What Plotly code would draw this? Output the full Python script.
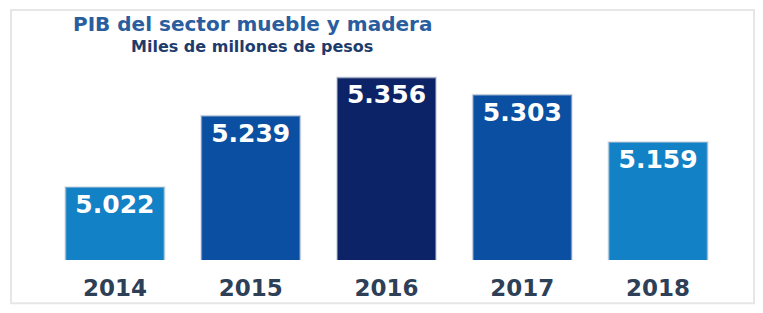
import plotly.graph_objects as go

years = ["2014", "2015", "2016", "2017", "2018"]
values = [5022, 5239, 5356, 5303, 5159]
labels = ["5.022", "5.239", "5.356", "5.303", "5.159"]
colors = ["#1381c6", "#0b4fa2", "#0c2367", "#0b4fa2", "#1381c6"]

title = "PIB del sector mueble y madera"
subtitle = "Miles de millones de pesos"

W, H = 763, 313
# plot area in page pixels: x 47..726, y 60..264
L, T = 47, 60
R, B = W - 726, H - 264
pw, ph = W - L - R, H - T - B


def px(x):
    return (x - L) / pw


def py(y):
    return (H - B - y) / ph


fig = go.Figure()
fig.add_trace(go.Bar(
    x=years, y=values, text=labels,
    marker=dict(color=colors, line=dict(color="rgba(200,205,215,0.5)", width=2)),
    width=0.73,
    textposition="inside", insidetextanchor="end",
    textfont=dict(family="DejaVu Sans", size=25, color="white", weight="bold"),
    constraintext="none",
    hoverinfo="skip",
))

fig.update_layout(
    width=W, height=H,
    margin=dict(l=L, r=R, t=T, b=B),
    paper_bgcolor="white", plot_bgcolor="white",
    showlegend=False,
    xaxis=dict(showgrid=False, showline=False, zeroline=False, ticks="",
               ticklabelstandoff=12,
               tickfont=dict(family="DejaVu Sans", size=23, color="#2e3f58", weight="bold")),
    yaxis=dict(visible=False, range=[4800, 5409]),
    shapes=[dict(type="rect", xref="paper", yref="paper",
                 x0=px(11), x1=px(754), y0=py(308), y1=py(9),
                 line=dict(color="#e6e6e6", width=2), layer="below")],
    annotations=[
        dict(text=title, xref="paper", yref="paper", x=px(252), y=py(23),
             xanchor="center", yanchor="middle", showarrow=False,
             font=dict(family="DejaVu Sans", size=20, color="#2a5d9e", weight="bold")),
        dict(text=subtitle, xref="paper", yref="paper", x=px(252), y=py(46),
             xanchor="center", yanchor="middle", showarrow=False,
             font=dict(family="DejaVu Sans", size=16, color="#1d3c6c", weight="bold")),
    ],
)

fig.write_html(
    "out.html",
    config={"displayModeBar": False},
    post_script="document.body.style.margin='0';document.body.style.overflow='hidden';",
)
